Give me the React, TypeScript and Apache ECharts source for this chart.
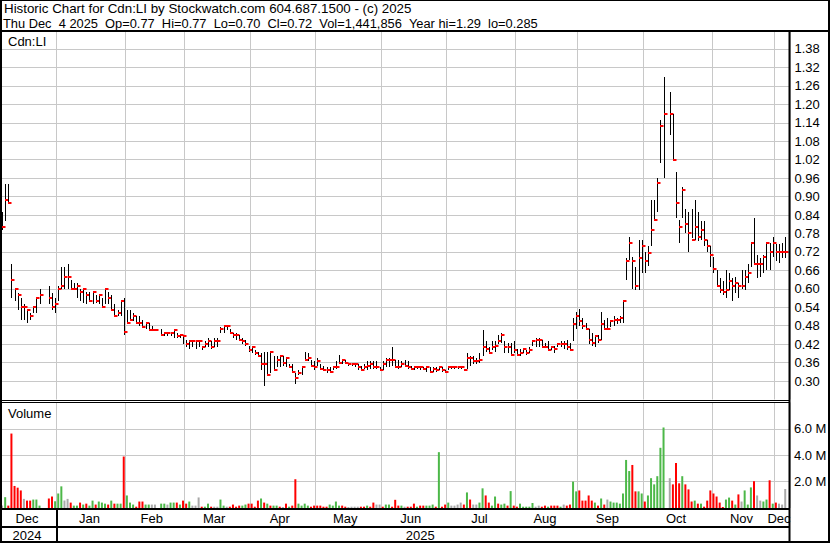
import { useEffect, useRef } from "react";
import * as echarts from "echarts";

// ---------------- data ----------------
const TITLE_LINE_1 = "Historic Chart for Cdn:LI by Stockwatch.com 604.687.1500 - (c) 2025";
const TITLE_LINE_2 =
  "Thu Dec  4 2025  Op=0.77  Hi=0.77  Lo=0.70  Cl=0.72  Vol=1,441,856  Year hi=1.29  lo=0.285";
const SYMBOL = "Cdn:LI";

const MONTHS = ["Dec", "Jan", "Feb", "Mar", "Apr", "May", "Jun", "Jul", "Aug", "Sep", "Oct", "Nov", "Dec"];
const MONTH_DAYS = [18, 22, 19, 21, 21, 21, 21, 22, 20, 21, 22, 20, 4];
const YEARS = ["2024", "2025"];
const YEAR_MONTH_COUNT = [1, 12];

const PRICE_MIN = 0.24;
const PRICE_MAX = 1.44;
const PRICE_STEP = 0.06;
const VOL_MIN = 0;
const VOL_MAX = 8;
const VOL_STEP = 2;

// one entry per trading day, null = no trade
const HIGH = [
  .85, .94, .94, .68, .60, .585, .57, .55, .53, .52, .54, .57, .60, null, null, .61, .585, .57,
  .61, .67, .67, .68, .63, .62, .62, .60, .60, .59, .59, .59, .58, .58, .57, .60, .59, .58, .55, .53, .56, .57,
  .53, .53, .52, .51, .51, .50, .49, .49, .48, .47, null, .47, .455, .455, .455, .47, .455, .45, .445,
  .435, .435, .43, .435, .43, .415, .43, .44, .43, .44, .44, .475, .48, .48, .47, .455, .455, .45, .44, .435, .415,
  .415, .40, .395, .39, .395, .395, .395, .38, .38, .385, .38, .375, .355, .355, .325, .335, .35, .395, .39, .37, .365,
  .375, .355, .35, .345, .345, .35, .365, .385, .37, .37, .36, .355, .36, .355, .35, .355, .365, .365, .365, .365, .345,
  .365, .375, .375, .41, .37, .37, .365, .37, .365, .35, .345, .35, .345, .345, .35, .345, .345, .345, .35, .345, .335,
  .35, .345, .345, .345, .35, .34, .39, .38, .38, .375, .39, .465, .43, .41, .43, .43, .45, .455, .43, .425, .425, .43,
  .405, .405, .405, .40, .41, .435, .44, .44, .435, .425, .43, .415, .415, .425, .43, .43, .435, .425, .505, .525,
  .535, .505, .49, .47, .455, .445, .45, .525, .50, .505, .495, .51, .505, .51, .56, .70, .77, .705, .67, .76, .76,
  .72, .74, .89, .89, .96, 1.15, 1.29, null, 1.24, 1.17, .98, .825, .93, .86, .85, .86, .89, .85, .82, .82, .76, .74,
  .705, .66, .635, .625, .66, .65, .635, .64, .62, .66, .66, .68, .75, .83, .71, .70, .71, .75, .75, .77,
  .745, .745, .75, .77,
];
const LOW = [
  .79, .82, .88, .57, .56, .53, .50, .50, .49, .50, .52, .52, .55, null, null, .55, .53, .52,
  .56, .60, .60, .60, .60, .60, .57, .56, .555, .55, .56, .55, .555, .55, .54, .55, .55, .53, .51, .51, .51, .45,
  .485, .50, .495, .49, .48, .475, .47, .465, .465, .465, null, .445, .445, .445, .445, .44, .44, .44, .42,
  .41, .405, .41, .405, .41, .40, .41, .41, .405, .41, .41, .455, .455, .465, .455, .44, .435, .43, .42, .415, .395,
  .39, .385, .38, .335, .285, .315, .325, .335, .345, .345, .35, .345, .345, .325, .29, .32, .32, .365, .365, .345, .335,
  .35, .335, .335, .325, .325, .335, .34, .355, .355, .355, .35, .35, .345, .335, .335, .34, .335, .34, .34, .34, .335,
  .335, .345, .345, .35, .345, .34, .345, .345, .34, .335, .335, .34, .335, .335, .33, .325, .33, .33, .335, .33, .325,
  .335, .34, .34, .34, .34, .335, .34, .35, .355, .355, .36, .38, .395, .39, .40, .395, .42, .425, .39, .39, .385, .39,
  .38, .38, .39, .385, .39, .415, .41, .41, .41, .41, .40, .40, .39, .41, .41, .405, .40, .40, .43, .47,
  .48, .47, .465, .42, .415, .41, .425, .435, .465, .47, .475, .48, .485, .49, .49, .63, .695, .60, .595, .595, .65,
  .65, .675, .74, .82, .85, 1.01, .96, null, 1.10, 1.02, .83, .75, .83, .78, .72, .765, .76, .755, .76, .74, .72, .67,
  .65, .605, .585, .58, .57, .595, .56, .585, .57, .60, .595, .62, .67, .68, .635, .64, .65, .66, .66, .705,
  .69, .685, .70, .70,
];
const CLOSE = [
  .80, .89, .88, .63, .60, .58, .54, .54, .53, .51, .54, .57, .58, null, null, .57, .54, .55,
  .60, .61, .64, .64, .60, .60, .61, .59, .60, .58, .56, .59, .56, .58, .54, .60, .57, .53, .51, .52, .56, .46,
  .49, .50, .51, .49, .49, .475, .49, .465, .465, .465, null, .45, .455, .455, .455, .465, .445, .45, .445,
  .42, .43, .43, .43, .43, .41, .42, .43, .41, .43, .43, .47, .48, .48, .455, .45, .45, .435, .43, .42, .40,
  .41, .39, .38, .355, .355, .32, .395, .335, .37, .38, .36, .375, .345, .33, .31, .325, .345, .37, .375, .35, .345,
  .365, .34, .335, .335, .33, .345, .345, .36, .37, .36, .355, .355, .355, .345, .335, .345, .35, .355, .345, .345, .335,
  .355, .37, .37, .37, .345, .345, .355, .35, .345, .34, .345, .345, .345, .34, .345, .33, .34, .335, .345, .335, .33,
  .345, .345, .345, .345, .345, .335, .375, .375, .365, .365, .37, .41, .405, .39, .41, .415, .43, .45, .41, .41, .385, .40,
  .385, .39, .405, .39, .40, .43, .435, .435, .41, .41, .40, .41, .405, .42, .42, .42, .41, .40, .485, .51,
  .495, .48, .47, .435, .425, .445, .435, .485, .47, .47, .495, .50, .50, .505, .56, .69, .75, .69, .61, .70, .74,
  .69, .715, .79, .825, .945, 1.13, 1.17, null, 1.17, 1.02, .88, .80, .92, .81, .78, .76, .80, .77, .79, .76, .74, .71,
  .665, .61, .595, .59, .595, .625, .61, .62, .61, .61, .64, .65, .75, .68, .68, .68, .705, .75, .72, .75,
  .72, .72, .72, .72,
];
// volume in millions
const VOLUME = [
  .18, .82, .18, 5.64, 1.67, 1.54, 1.33, .69, .56, .56, .64, .64, .18, null, null, .72, .87, .51,
  1.1, 1.64, .56, .69, .41, .18, .18, .41, .26, .33, .18, .56, .26, .49, .41, .33, .26, .56, .33, .33, .33, 3.9,
  .95, .41, .26, .1, .49, .49, .26, .26, .26, .26, null, .33, .33, .26, .41, .41, .41, .26, .56,
  .33, .49, .18, .18, .8, .1, .1, .33, .1, .1, .1, .64, .18, .1, .1, .26, .1, .18, .18, .26, .33,
  .33, .1, .56, .72, .41, .33, .18, .18, .18, .1, .05, .33, .1, .18, 2.18, .33, .18, .33, .18, .1, .18,
  .18, .18, .1, .1, .26, .18, .49, .18, .18, .1, .05, .1, .1, .1, .1, .1, .18, .1, .41, .26, .26,
  .1, .26, .26, .1, .62, .18, .18, .1, .1, .1, .33, .1, .18, .18, .18, .18, .26, .1, 4.23, .1, .26,
  .41, .18, .18, .26, .41, .26, 1.18, .64, .26, .26, .41, 1.49, .95, .41, .18, .87, .33, .26, .33, .18, 1.28, .18,
  .1, .33, .1, .1, .1, .38, .1, .18, .1, .18, .1, .18, .18, .18, .1, .26, .18, .26, 2.0, 1.26,
  1.33, .56, .56, .95, .56, .41, .18, .72, .26, .64, .49, .41, .41, .33, 1.1, 3.64, 2.8, 3.26, 1.26, 1.26, 1.1,
  .49, .95, 2.26, 1.79, 2.41, 4.56, 6.1, null, 2.26, 1.79, 3.41, 1.87, 2.41, 1.79, 1.41, .49, .56, .33, .33, .1, .56, 1.33,
  1.1, .87, .41, .05, .64, .79, .56, .26, 1.03, .49, 1.33, .26, 1.56, 2.03, .95, .56, .49, .64, 2.1, .33,
  .41, .33, .26, 1.44,
];
// u = up day, d = down day, n = unchanged, - = no trade
const VOL_DIR = (
  "nudddddndduuu--ddu" +
  "uunnduududuuduuududuud" +
  "uuuddduunn-uunuudud" +
  "dunnnduudnnuundddduud" +
  "dddududuudndudduuuudd" +
  "dddduuuuddnnnndduddnn" +
  "duudddundddudduuududd" +
  "unnnndudnnuudduuduudud" +
  "duuuuunnddudddundduu" +
  "dddddududnuuuuuuudduu" +
  "duuuuuu-ndddudddududdd" +
  "dddduududnuuudnnuudu" +
  "dnnn"
).split("");

// ---------------- styling ----------------
const FONT = "Liberation Sans, Arial, Helvetica, sans-serif";
const GRID_COLOR = "#c8c8c8";
const DIR_COLOR: Record<string, string> = { u: "#4cb848", d: "#ff0000", n: "#a9a9a9", "-": "#a9a9a9" };

const TOTAL_SLOTS = MONTH_DAYS.reduce((a, b) => a + b, 0) + 1; // one empty slot on the right
const CATEGORIES = Array.from({ length: TOTAL_SLOTS }, (_, i) => String(i));

const monthStarts = new Set<number>();
const monthLabelAt = new Map<number, string>();
{
  let s = 0;
  MONTH_DAYS.forEach((n, k) => {
    monthStarts.add(s);
    monthLabelAt.set(s + Math.floor((n - 2) / 2), MONTHS[k]);
    s += n;
  });
}
const yearLabelAt = new Map<number, string>();
const yearStarts: number[] = [];
{
  let m = 0;
  let s = 0;
  YEAR_MONTH_COUNT.forEach((cnt, k) => {
    let n = 0;
    for (let j = 0; j < cnt; j++) n += MONTH_DAYS[m + j];
    if (k === YEARS.length - 1) n += 1;
    yearStarts.push(s);
    yearLabelAt.set(s + Math.floor((n - 2) / 2), YEARS[k]);
    s += n;
    m += cnt;
  });
}

// text width measured with a canvas, used to lay out runs separated by double spaces
function measure(text: string, size: number): number {
  const c = document.createElement("canvas").getContext("2d");
  if (!c) return text.length * size * 0.55;
  c.font = `${size}px ${FONT}`;
  return c.measureText(text).width;
}

export default function App() {
  const ref = useRef<HTMLDivElement>(null);

  useEffect(() => {
    const el = ref.current;
    if (!el) return;
    const chart = echarts.init(el, null, { renderer: "svg" });

    const priceData: number[][] = [];
    HIGH.forEach((h, i) => {
      if (h == null || LOW[i] == null || CLOSE[i] == null) return;
      priceData.push([i, h as number, LOW[i] as number, CLOSE[i] as number]);
    });
    const volData = VOLUME.map((v, i) =>
      v == null ? "-" : { value: v, itemStyle: { color: DIR_COLOR[VOL_DIR[i] || "n"] } }
    );

    const GRID_LEFT = 0.5;
    const GRID_WIDTH = 789.4;

    const splitX = {
      show: true,
      interval: (idx: number) => monthStarts.has(idx),
      lineStyle: { color: GRID_COLOR, width: 1 },
    };

    chart.setOption({
      animation: false,
      backgroundColor: "#ffffff",
      grid: [
        { left: GRID_LEFT, top: 30.5, width: GRID_WIDTH, height: 369 },
        { left: GRID_LEFT, top: 402.4, width: GRID_WIDTH, height: 105.6 },
      ],
      xAxis: [
        {
          type: "category",
          gridIndex: 0,
          data: CATEGORIES,
          boundaryGap: true,
          axisLine: { show: false },
          axisTick: { show: false },
          axisLabel: { show: false },
          splitLine: splitX,
        },
        {
          type: "category",
          gridIndex: 1,
          data: CATEGORIES,
          boundaryGap: true,
          axisLine: { show: false },
          axisTick: { show: false },
          axisLabel: {
            interval: (idx: number) => monthLabelAt.has(idx),
            formatter: (v: string) => monthLabelAt.get(Number(v)) || "",
            margin: 10,
            verticalAlign: "middle",
            color: "#000",
            fontSize: 13,
            fontFamily: FONT,
          },
          splitLine: splitX,
        },
        {
          type: "category",
          gridIndex: 1,
          position: "bottom",
          offset: 17,
          data: CATEGORIES,
          boundaryGap: true,
          axisLine: { show: false },
          axisTick: { show: false },
          axisLabel: {
            interval: (idx: number) => yearLabelAt.has(idx),
            formatter: (v: string) => yearLabelAt.get(Number(v)) || "",
            margin: 10,
            verticalAlign: "middle",
            color: "#000",
            fontSize: 13,
            fontFamily: FONT,
          },
          splitLine: { show: false },
        },
      ],
      yAxis: [
        {
          type: "value",
          gridIndex: 0,
          position: "right",
          min: PRICE_MIN,
          max: PRICE_MAX,
          interval: PRICE_STEP,
          axisLine: { show: false },
          axisTick: { show: false },
          axisLabel: {
            showMinLabel: false,
            showMaxLabel: false,
            formatter: (v: number) => v.toFixed(2),
            margin: 4.5,
            color: "#000",
            fontSize: 13,
            fontFamily: FONT,
          },
          splitLine: { show: true, showMinLine: false, showMaxLine: false, lineStyle: { color: GRID_COLOR, width: 1 } },
        },
        {
          type: "value",
          gridIndex: 1,
          position: "right",
          min: VOL_MIN,
          max: VOL_MAX,
          interval: VOL_STEP,
          axisLine: { show: false },
          axisTick: { show: false },
          axisLabel: {
            showMinLabel: false,
            showMaxLabel: false,
            formatter: (v: number) => v.toFixed(1) + " M",
            margin: 4,
            color: "#000",
            fontSize: 13,
            fontFamily: FONT,
          },
          splitLine: { show: true, showMinLine: false, showMaxLine: false, lineStyle: { color: GRID_COLOR, width: 1 } },
        },
      ],
      series: [
        {
          type: "custom",
          xAxisIndex: 0,
          yAxisIndex: 0,
          data: priceData,
          renderItem: (_params: any, api: any) => {
            const i = api.value(0);
            const hi = api.coord([i, api.value(1)]);
            const lo = api.coord([i, api.value(2)]);
            const cl = api.coord([i, api.value(3)]);
            const x = Math.round(hi[0]) + 0.5;
            const cy = Math.round(cl[1]);
            return {
              type: "group",
              children: [
                {
                  type: "line",
                  shape: { x1: x, y1: Math.round(hi[1]), x2: x, y2: Math.max(Math.round(lo[1]), Math.round(hi[1]) + 1) },
                  style: { stroke: "#000", lineWidth: 1 },
                },
                {
                  type: "rect",
                  shape: { x: x - 0.5, y: cy - 1, width: 3.5, height: 2 },
                  style: { fill: "#ff0000" },
                },
              ],
            };
          },
        },
        {
          type: "bar",
          xAxisIndex: 1,
          yAxisIndex: 1,
          data: volData,
          barWidth: 2,
          barMinHeight: 1,
        },
      ],
    });

    // frame and labels (position of the year divider taken from the axis)
    const p17 = chart.convertToPixel({ xAxisIndex: 1 }, yearStarts[1] - 1) as unknown as number;
    const p18 = chart.convertToPixel({ xAxisIndex: 1 }, yearStarts[1]) as unknown as number;
    const xDiv = Math.round((p17 + p18) / 2);
    const axisRight = GRID_LEFT + GRID_WIDTH;

    const blk = (x1: number, y1: number, x2: number, y2: number, w: number) => ({
      type: "line",
      z: 100,
      shape: { x1, y1, x2, y2 },
      style: { stroke: "#000", lineWidth: w },
    });
    const txt = (x: number, y: number, text: string, size = 13) => ({
      type: "text",
      z: 100,
      x,
      y,
      style: { text, fill: "#000", fontSize: size, fontFamily: FONT, verticalAlign: "middle", align: "left" },
    });

    // second title line: runs separated by double spaces
    const L2_SIZE = 12.85;
    const runs = TITLE_LINE_2.split("  ");
    const gap = 2 * measure(" ", L2_SIZE);
    const line2: any[] = [];
    let cx = 3;
    runs.forEach((r) => {
      line2.push(txt(cx, 23, r, L2_SIZE));
      cx += measure(r, L2_SIZE) + gap;
    });

    chart.setOption({
      graphic: [
        blk(0, 0.5, 830, 0.5, 1),
        blk(1, 0, 1, 543, 2),
        blk(829, 0, 829, 543, 2),
        blk(0, 542, 830, 542, 2),
        blk(0, 31, 830, 31, 2),
        blk(axisRight - 0.4, 31, axisRight - 0.4, 543, 2),
        blk(0, 400.5, axisRight, 400.5, 1),
        blk(0, 402.5, axisRight, 402.5, 1),
        blk(0, 509, axisRight, 509, 2),
        blk(0, 527, axisRight, 527, 2),
        blk(xDiv, 509, xDiv, 542, 2),
        txt(4, 8.5, TITLE_LINE_1, 13.33),
        ...line2,
        txt(8, 41, SYMBOL),
        txt(8, 413, "Volume"),
      ],
    });

    return () => chart.dispose();
  }, []);

  return (
    <div
      ref={ref}
      style={{ position: "absolute", left: 0, top: 0, width: 830, height: 543, background: "#fff" }}
    />
  );
}
